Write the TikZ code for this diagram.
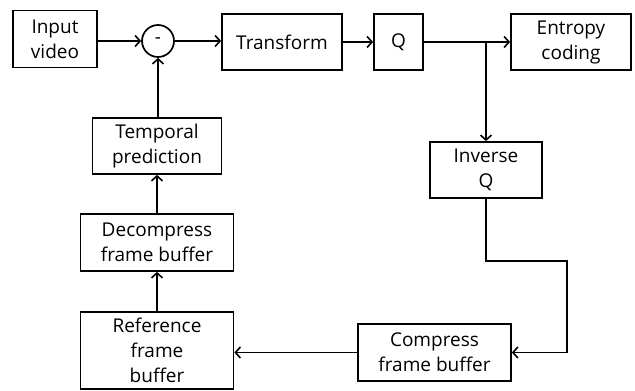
\documentclass[tikz,border=0pt]{standalone}
\usepackage{fontspec}
\setmainfont{Open Sans}
\usepackage{tikz}
\usetikzlibrary{arrows.meta}

\begin{document}
\begin{tikzpicture}[x=1pt,y=1pt]
\tikzstyle{every node}+=[inner sep=0pt]
\tikzstyle{blk}=[draw,line width=1.7pt,align=center,font=\fontsize{19}{25}\selectfont]
\tikzstyle{con}=[line width=1.7pt,-{Straight Barb[length=5pt,width=11pt,line width=1.6pt]}]
\useasboundingbox (0,0) rectangle (635,-391);
% forward path
\node [blk,minimum width=84pt,minimum height=57pt] (inp) at (55,-39) {Input\\video};
\node [draw,circle,line width=1.7pt,minimum size=32pt,font=\fontsize{19}{25}\selectfont] (sub) at (158,-41) {-};
\node [blk,minimum width=120pt,minimum height=56pt] (tra) at (282,-42) {Transform};
\node [blk,minimum width=49pt,minimum height=56pt] (q) at (398.5,-42) {Q};
\node [blk,minimum width=120pt,minimum height=56pt] (ent) at (571,-42) {Entropy\\coding};
% reconstruction loop
\node [blk,minimum width=112pt,minimum height=56pt] (inv) at (486,-170) {Inverse\\Q};
\node [blk,minimum width=153pt,minimum height=57pt] (cmp) at (434.5,-352.5) {Compress\\frame buffer};
\node [blk,minimum width=153pt,minimum height=77pt] (ref) at (157,-350.5) {Reference\\frame\\buffer};
\node [blk,minimum width=153pt,minimum height=57pt] (dec) at (157,-242.5) {Decompress\\frame buffer};
\node [blk,minimum width=129pt,minimum height=56pt] (tmp) at (157,-146) {Temporal\\prediction};
\coordinate (br) at (486,-42);
\coordinate (rt) at (567,-261);
% connectors
\draw [con] (inp.east |- sub) -- (sub.west);
\draw [con] (sub.east) -- (tra.west |- sub);
\draw [con] (tra) -- (q);
\draw [con] (q) -- (ent);
\draw [con] (br) -- (inv.north);
\draw [con] (inv.south) |- (rt) |- (cmp.east);
\draw [con] (cmp.west) -- (ref.east |- cmp.west);
\draw [con] (ref) -- (dec);
\draw [con] (dec) -- (tmp);
\draw [con] (tmp.north -| sub) -- (sub.south);
\end{tikzpicture}
\end{document}
